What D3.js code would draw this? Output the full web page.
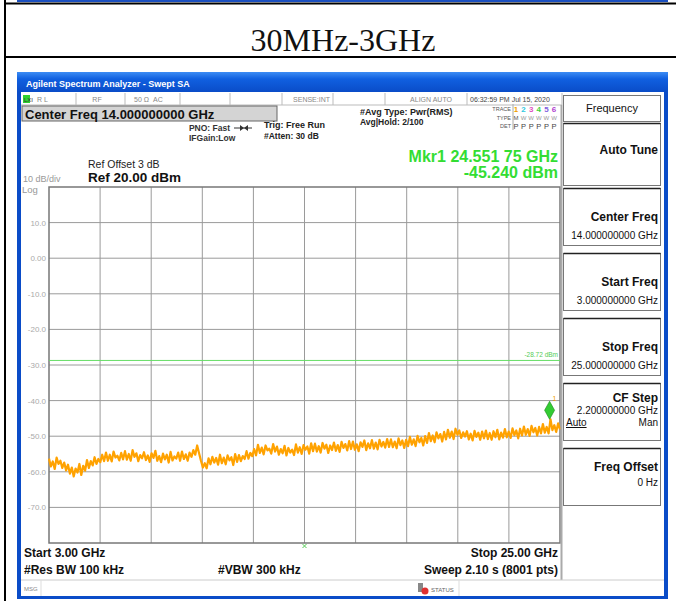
<!DOCTYPE html>
<html>
<head>
<meta charset="utf-8">
<script src="https://cdn.jsdelivr.net/npm/d3@7"></script>
<style>
  body { margin: 0; background: #fff; }
  svg text { font-family: "Liberation Sans", Arial, sans-serif; }
</style>
</head>
<body>
<div id="chart"></div>
<script>
// sweep settings
var startGHz = 3.0, stopGHz = 25.0;
var refLevel = 20, dbPerDiv = 10, numDiv = 10;
var yTickValues = [10, 0, -10, -20, -30, -40, -50, -60, -70];
var yTickLabels = ["10.0", "0.00", "-10.0", "-20.0", "-30.0", "-40.0", "-50.0", "-60.0", "-70.0"];
var displayLine = -28.72;
var markerGHz = 24.55175, markerDbm = -45.24;

// trace (dBm), evenly spaced from start to stop
var traceDbm = [
  -56.3,-58.5,-57.1,-59.2,-56.0,-57.8,-56.9,-58.9,-57.4,-59.6,
  -58.0,-60.5,-58.8,-61.3,-59.1,-60.2,-57.8,-60.9,-58.3,-59.7,
  -56.7,-58.9,-57.0,-58.2,-55.9,-57.8,-56.4,-57.3,-55.2,-57.0,
  -54.6,-56.9,-55.2,-57.1,-54.3,-56.0,-55.5,-56.8,-54.7,-56.5,
  -54.2,-56.6,-55.0,-56.9,-53.9,-55.8,-54.8,-57.0,-55.3,-56.2,
  -54.5,-56.7,-55.4,-57.2,-54.8,-56.1,-54.1,-56.9,-55.6,-57.3,
  -54.9,-56.5,-55.2,-57.4,-54.4,-56.8,-55.7,-56.3,-54.6,-56.9,
  -54.3,-56.4,-55.1,-56.9,-54.6,-55.8,-53.9,-55.2,-52.6,-54.8,
  -56.9,-58.8,-57.6,-59.0,-56.2,-57.9,-55.8,-57.4,-56.1,-58.0,
  -55.2,-57.6,-56.0,-57.9,-55.4,-56.8,-55.9,-58.1,-55.0,-57.2,
  -55.3,-57.0,-55.6,-56.4,-54.2,-56.3,-54.7,-55.6,-53.6,-55.4,
  -52.4,-54.7,-53.2,-55.1,-52.6,-54.0,-53.5,-54.9,-52.2,-54.3,
  -52.9,-55.2,-53.6,-54.8,-52.7,-55.4,-53.3,-54.6,-53.8,-55.3,
  -52.3,-54.6,-53.1,-55.0,-52.5,-53.8,-52.9,-54.9,-52.0,-54.2,
  -52.1,-54.3,-52.8,-54.6,-51.9,-53.5,-52.4,-54.7,-52.6,-53.9,
  -51.8,-54.1,-52.5,-54.4,-51.6,-53.3,-52.2,-54.0,-51.4,-53.6,
  -51.5,-53.8,-52.3,-54.2,-51.7,-53.0,-51.2,-53.9,-52.0,-53.4,
  -51.1,-53.5,-51.8,-53.7,-51.0,-52.9,-51.6,-53.2,-50.8,-53.0,
  -50.9,-53.1,-51.5,-53.4,-50.6,-52.5,-51.2,-53.3,-51.0,-52.8,
  -50.2,-52.4,-50.9,-52.8,-49.9,-51.7,-50.5,-52.6,-50.0,-51.9,
  -49.1,-51.4,-49.8,-51.7,-48.9,-50.6,-49.4,-51.5,-48.8,-50.9,
  -48.2,-50.4,-48.7,-50.8,-47.9,-49.6,-48.4,-50.5,-48.9,-50.1,
  -48.6,-50.9,-49.3,-51.2,-48.5,-50.2,-49.0,-51.0,-48.7,-50.6,
  -48.4,-50.8,-49.1,-51.0,-48.6,-50.3,-48.2,-50.9,-49.0,-50.4,
  -48.0,-50.3,-48.7,-50.5,-47.8,-49.7,-48.4,-50.6,-47.9,-49.8,
  -47.3,-49.6,-48.0,-49.9,-47.1,-48.9,-47.7,-49.8,-47.4,-49.2,
  -46.6,-49.0,-47.4,-49.2,-45.24,-48.3,-46.9,-48.8,-46.4,-48.1
];

// softkeys on the right
var softTitles = ["Auto Tune", "Center Freq", "Start Freq", "Stop Freq", "CF Step", "Freq Offset"];
var softValues = ["", "14.000000000 GHz", "3.000000000 GHz", "25.000000000 GHz", "2.200000000 GHz", "0 Hz"];

var traceColors = ["#f0a000", "#30c8e0", "#e050c0", "#40d040", "#8060e0", "#b040d0"];

var W = 676, H = 601;
var svg = d3.select("#chart").append("svg")
  .attr("width", W).attr("height", H);

var defs = svg.append("defs");
var grad = defs.append("linearGradient").attr("id", "bar").attr("x1", 0).attr("y1", 0).attr("x2", 0).attr("y2", 1);
grad.append("stop").attr("offset", "0%").attr("stop-color", "#3c8cf4");
grad.append("stop").attr("offset", "35%").attr("stop-color", "#1060e0");
grad.append("stop").attr("offset", "100%").attr("stop-color", "#0a4cc8");

// ---- document table around the screenshot ----
svg.append("rect").attr("x", 17).attr("y", 0).attr("width", 651).attr("height", 2).attr("fill", "#1a4fc0");
svg.append("line").attr("x1", 5).attr("x2", W).attr("y1", 3.5).attr("y2", 3.5).attr("stroke", "#000").attr("stroke-width", 2);
svg.append("line").attr("x1", 5).attr("x2", W).attr("y1", 57).attr("y2", 57).attr("stroke", "#000").attr("stroke-width", 2);
svg.append("line").attr("x1", 5).attr("x2", 5).attr("y1", 0).attr("y2", H).attr("stroke", "#000").attr("stroke-width", 2);
svg.append("text").attr("x", 343).attr("y", 51).attr("text-anchor", "middle")
  .style("font-family", "'Liberation Serif', 'Times New Roman', serif")
  .style("font-size", "32px").attr("fill", "#111").text("30MHz-3GHz");

// ---- analyzer window ----
svg.append("rect").attr("x", 17).attr("y", 72).attr("width", 651).attr("height", 527).attr("fill", "#0a4cc8");
svg.append("rect").attr("x", 17).attr("y", 72).attr("width", 651).attr("height", 20).attr("fill", "url(#bar)");
svg.append("rect").attr("x", 21).attr("y", 92).attr("width", 643).attr("height", 504).attr("fill", "#fff");
svg.append("text").attr("x", 26).attr("y", 87).attr("fill", "#fff")
  .style("font-size", "9px").style("font-weight", "bold").text("Agilent Spectrum Analyzer - Swept SA");

// status row
var statusSeps = [76, 125, 180, 230, 282, 333, 385, 467, 562];
var statusG = svg.append("g");
statusG.append("line").attr("x1", 21).attr("x2", 562).attr("y1", 105).attr("y2", 105).attr("stroke", "#bbb");
statusSeps.forEach(function (sx) {
  statusG.append("line").attr("x1", sx).attr("x2", sx).attr("y1", 93).attr("y2", 105).attr("stroke", "#bbb");
});
statusG.append("rect").attr("x", 23).attr("y", 95).attr("width", 7).attr("height", 8).attr("fill", "#30d030");
statusG.append("text").attr("x", 24).attr("y", 102).style("font-size", "6px").attr("fill", "#333").text("LXI");
var stTexts = [[37, "R L", "start"], [97, "RF", "middle"], [134, "50 \u03a9", "start"], [153, "AC", "start"],
  [330, "SENSE:INT", "end"], [452, "ALIGN AUTO", "end"], [470, "06:32:59 PM Jul 15, 2020", "start"]];
stTexts.forEach(function (t) {
  statusG.append("text").attr("x", t[0]).attr("y", 102).attr("text-anchor", t[2])
    .style("font-size", "7px").attr("fill", t[0] > 460 ? "#444" : "#888").text(t[1]);
});

// center freq box
svg.append("rect").attr("x", 22).attr("y", 106).attr("width", 255).attr("height", 15)
  .attr("fill", "#d4d4d4").attr("stroke", "#666");
svg.append("text").attr("x", 25).attr("y", 118.5).style("font-size", "13px").style("font-weight", "bold")
  .attr("fill", "#111").text("Center Freq  14.000000000 GHz");

function label(lx, ly, s, size, opts) {
  opts = opts || {};
  return svg.append("text").attr("x", lx).attr("y", ly).attr("text-anchor", opts.anchor || "start")
    .style("font-size", size + "px").style("font-weight", opts.bold ? "bold" : "normal")
    .attr("fill", opts.fill || "#222").text(s);
}
label(230, 131, "PNO: Fast", 8.5, { anchor: "end", bold: true, fill: "#333" });
svg.append("line").attr("x1", 234).attr("x2", 252).attr("y1", 128).attr("y2", 128).attr("stroke", "#333");
svg.append("path").attr("d", "M240,125 L244,128 L240,131 Z M248,125 L244,128 L248,131 Z").attr("fill", "#333");
label(189, 141, "IFGain:Low", 8.5, { bold: true, fill: "#333" });
label(264, 128, "Trig: Free Run", 9, { bold: true });
label(264, 139, "#Atten: 30 dB", 8.5, { bold: true });
label(360, 115, "#Avg Type: Pwr(RMS)", 9, { bold: true });
label(360, 125, "Avg|Hold: 2/100", 8.5, { bold: true });

// trace info block
label(511, 111, "TRACE", 5.5, { anchor: "end", fill: "#555" });
label(511, 120, "TYPE", 5.5, { anchor: "end", fill: "#555" });
label(511, 128, "DET", 5.5, { anchor: "end", fill: "#555" });
svg.append("line").attr("x1", 513).attr("x2", 513).attr("y1", 104).attr("y2", 130).attr("stroke", "#aaa");
traceColors.forEach(function (c, i) {
  var tx = 516 + i * 7.6;
  label(tx, 112, String(i + 1), 8, { fill: c, bold: true, anchor: "middle" });
  label(tx, 120, i === 0 ? "M" : "W", 6, { fill: i === 0 ? "#555" : "#999", anchor: "middle" });
  label(tx, 129, "P", 7.5, { fill: "#444", anchor: "middle" });
});

// marker readout
label(558, 162, "Mkr1 24.551 75 GHz", 16, { anchor: "end", bold: true, fill: "#33dd33" });
label(558, 178, "-45.240 dBm", 16, { anchor: "end", bold: true, fill: "#33dd33" });

// reference info
label(88, 168, "Ref Offset 3 dB", 10.5, { fill: "#222" });
label(88, 182, "Ref 20.00 dBm", 13.5, { bold: true, fill: "#111" });
label(23, 182, "10 dB/div", 9, { fill: "#999" });
label(22, 193, "Log", 9.5, { fill: "#999" });

// ---- plot area ----
var plotL = 49, plotR = 560, plotT = 187, plotB = 543;
var x = d3.scaleLinear().domain([startGHz, stopGHz]).range([plotL, plotR]);
var y = d3.scaleLinear().domain([refLevel - dbPerDiv * numDiv, refLevel]).range([plotB, plotT]);

var grid = svg.append("g");
var xTicks = d3.range(numDiv + 1).map(function (i) { return startGHz + i * (stopGHz - startGHz) / numDiv; });
grid.selectAll(".vg").data(xTicks.slice(1, -1)).enter().append("line")
  .attr("x1", function (d) { return x(d); }).attr("x2", function (d) { return x(d); })
  .attr("y1", plotT).attr("y2", plotB).attr("stroke", "#9a9a9a").attr("stroke-width", 1);
grid.selectAll(".hg").data(yTickValues).enter().append("line")
  .attr("x1", plotL).attr("x2", plotR)
  .attr("y1", function (d) { return y(d); }).attr("y2", function (d) { return y(d); })
  .attr("stroke", "#9a9a9a").attr("stroke-width", 1);
grid.append("rect").attr("x", plotL).attr("y", plotT).attr("width", plotR - plotL).attr("height", plotB - plotT)
  .attr("fill", "none").attr("stroke", "#777").attr("stroke-width", 1.5);

var yAxis = d3.axisLeft(y).tickValues(yTickValues).tickSize(0).tickPadding(3)
  .tickFormat(function (d, i) { return yTickLabels[i]; });
var ya = svg.append("g").attr("transform", "translate(" + plotL + ",0)").call(yAxis);
ya.select(".domain").remove();
ya.selectAll("text").style("font-size", "8px").style("font-family", "'Liberation Sans', Arial, sans-serif").attr("fill", "#aaa");

// display line
svg.append("line").attr("x1", plotL).attr("x2", plotR).attr("y1", y(displayLine)).attr("y2", y(displayLine))
  .attr("stroke", "#66dd66").attr("stroke-width", 1);
label(plotR - 2, y(displayLine) - 3, displayLine.toFixed(2) + " dBm", 6.5, { anchor: "end", fill: "#55cc55" });

// trace
var step = (stopGHz - startGHz) / (traceDbm.length - 1);
var line = d3.line()
  .x(function (d, i) { return x(startGHz + i * step); })
  .y(function (d) { return y(d); });
svg.append("path").datum(traceDbm).attr("d", line)
  .attr("fill", "none").attr("stroke", "#ffa200").attr("stroke-width", 2.2).attr("stroke-linejoin", "round");

// marker
var mx = x(markerGHz), my = y(markerDbm);
svg.append("path").attr("d", "M" + mx + "," + my + " l-5,-9 l5,-9 l5,9 Z")
  .attr("fill", "#33cc33").attr("stroke", "#1a8a1a").attr("stroke-width", 0.6);
label(mx + 3, my - 18, "1", 7, { fill: "#f0a000" });

// center frequency tick below the grid
var cx = x((startGHz + stopGHz) / 2);
svg.append("path").attr("d", "M" + (cx - 2) + "," + (plotB + 1) + " L" + (cx + 2) + "," + (plotB + 5) +
  " M" + (cx + 2) + "," + (plotB + 1) + " L" + (cx - 2) + "," + (plotB + 5))
  .attr("stroke", "#55cc55").attr("stroke-width", 1);

// separator between display and softkeys
svg.append("line").attr("x1", 561.5).attr("x2", 561.5).attr("y1", 105).attr("y2", 580).attr("stroke", "#aaa").attr("stroke-width", 2);

// bottom annotations
label(24, 557, "Start 3.00 GHz", 12, { bold: true, fill: "#111" });
label(24, 574, "#Res BW 100 kHz", 12, { bold: true, fill: "#111" });
label(218, 574, "#VBW 300 kHz", 12, { bold: true, fill: "#111" });
label(558, 557, "Stop 25.00 GHz", 12, { anchor: "end", bold: true, fill: "#111" });
label(558, 574, "Sweep  2.10 s (8001 pts)", 12, { anchor: "end", bold: true, fill: "#111" });

// msg bar
svg.append("line").attr("x1", 21).attr("x2", 664).attr("y1", 580).attr("y2", 580).attr("stroke", "#ccc");
svg.append("line").attr("x1", 41).attr("x2", 41).attr("y1", 580).attr("y2", 596).attr("stroke", "#ddd");
label(24, 591, "MSG", 6, { fill: "#888" });
svg.append("rect").attr("x", 418).attr("y", 583).attr("width", 5).attr("height", 9).attr("fill", "#888");
svg.append("circle").attr("cx", 425).attr("cy", 591).attr("r", 3.5).attr("fill", "#e03030");
label(431, 592, "STATUS", 6, { fill: "#666" });
svg.append("line").attr("x1", 459).attr("x2", 459).attr("y1", 580).attr("y2", 596).attr("stroke", "#ddd");

// ---- softkey panel ----
var panel = svg.append("g");
panel.append("rect").attr("x", 563.5).attr("y", 95.5).attr("width", 97).attr("height", 26)
  .attr("fill", "#fff").attr("stroke", "#777");
panel.append("text").attr("x", 612).attr("y", 112).attr("text-anchor", "middle")
  .style("font-size", "11px").attr("fill", "#111").text("Frequency");

var keyTop = d3.scaleLinear().domain([0, 1]).range([123, 188]);
softTitles.forEach(function (t, i) {
  var top = keyTop(i);
  var g = panel.append("g");
  g.append("rect").attr("x", 563.5).attr("y", top + 0.5).attr("width", 97).attr("height", i === 0 ? 62 : 57)
    .attr("fill", "#fff").attr("stroke", "#777");
  g.append("line").attr("x1", 563.5).attr("x2", 660.5).attr("y1", top + 0.5).attr("y2", top + 0.5)
    .attr("stroke", "#222").attr("stroke-width", 1.5);
  var ty = top + 33, vy = top + 51;
  if (i === 0) ty = top + 31;
  if (i === 4) { ty = top + 19; vy = top + 31; }
  if (i === 5) { ty = top + 23; vy = top + 38; }
  g.append("text").attr("x", 658).attr("y", ty).attr("text-anchor", "end")
    .style("font-size", "12px").style("font-weight", "bold").attr("fill", "#111").text(t);
  if (softValues[i]) {
    g.append("text").attr("x", 658).attr("y", vy).attr("text-anchor", "end")
      .style("font-size", "10px").attr("fill", "#111").text(softValues[i]);
  }
  if (i === 4) {
    g.append("text").attr("x", 566).attr("y", top + 43).style("font-size", "10px")
      .style("text-decoration", "underline").attr("fill", "#111").text("Auto");
    g.append("text").attr("x", 658).attr("y", top + 43).attr("text-anchor", "end")
      .style("font-size", "10px").attr("fill", "#111").text("Man");
  }
});
</script>
</body>
</html>
